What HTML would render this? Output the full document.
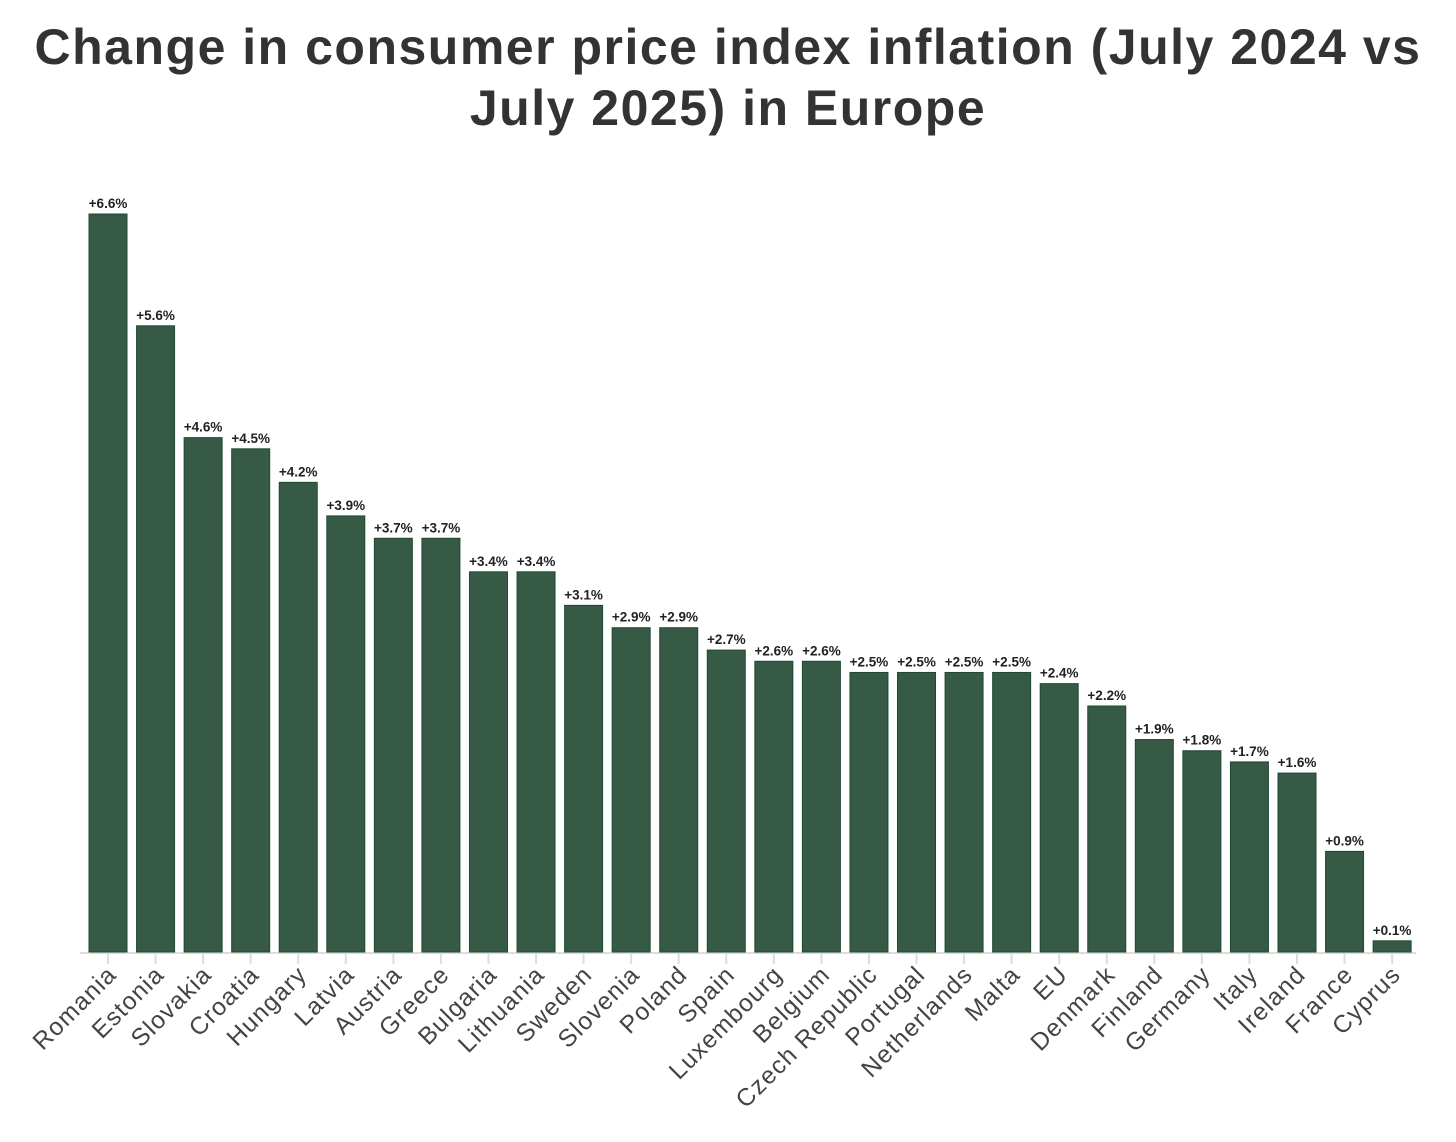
<!DOCTYPE html>
<html><head><meta charset="utf-8"><style>
body{margin:0;background:#fff;width:1456px;height:1142px;overflow:hidden;font-family:"Liberation Sans",sans-serif}
h1{margin:0;position:absolute;top:17px;left:0;width:1456px;text-align:center;font-size:50px;letter-spacing:1.5px;line-height:61px;font-weight:bold;color:#333}
svg{position:absolute;left:0;top:0}
</style></head><body>
<h1>Change in consumer price index inflation (July 2024 vs<br>July 2025) in Europe</h1>
<svg id="chart" width="1456" height="1142"></svg>
<script>
const categories=["Romania","Estonia","Slovakia","Croatia","Hungary","Latvia","Austria","Greece","Bulgaria","Lithuania","Sweden","Slovenia","Poland","Spain","Luxembourg","Belgium","Czech Republic","Portugal","Netherlands","Malta","EU","Denmark","Finland","Germany","Italy","Ireland","France","Cyprus"];
const values=[6.6,5.6,4.6,4.5,4.2,3.9,3.7,3.7,3.4,3.4,3.1,2.9,2.9,2.7,2.6,2.6,2.5,2.5,2.5,2.5,2.4,2.2,1.9,1.8,1.7,1.6,0.9,0.1];
const svg=document.getElementById('chart');
const NS='http://www.w3.org/2000/svg';
const x0=89,pitch=47.56,bw=38,base=952,yMax=6.6,yTop=214;
const x=i=>x0+i*pitch;
const y=v=>base-(v/yMax)*(base-yTop);
function mk(t,a){const e=document.createElementNS(NS,t);for(const k in a)e.setAttribute(k,a[k]);svg.appendChild(e);return e;}
const ax=mk('line',{x1:80,x2:1416,y1:base+1,y2:base+1,stroke:'#ddd','stroke-width':2});


categories.forEach((c,i)=>{
  const v=values[i],cx=x(i)+bw/2;
  const r=mk('rect',{x:x(i),y:y(v),width:bw,height:base-y(v),fill:'#365a45',stroke:'#1f4a30','stroke-width':1});
  
  
  const t=mk('text',{x:cx,y:y(v)-6,'text-anchor':'middle','font-size':13.5,'font-weight':'bold',fill:'#222'});
  t.textContent='+'+v.toFixed(1)+'%';
  
  
  const tk=mk('line',{x1:cx,x2:cx,y1:base+2,y2:base+12,stroke:'#ddd','stroke-width':2});
  
  
  const lx=cx+10,ly=976;
  const l=mk('text',{x:lx,y:ly,'text-anchor':'end','font-size':24.5,'letter-spacing':1.2,fill:'#444',transform:`rotate(-45 ${lx} ${ly})`});
  l.textContent=c;
  
  
});
</script>
</body></html>
